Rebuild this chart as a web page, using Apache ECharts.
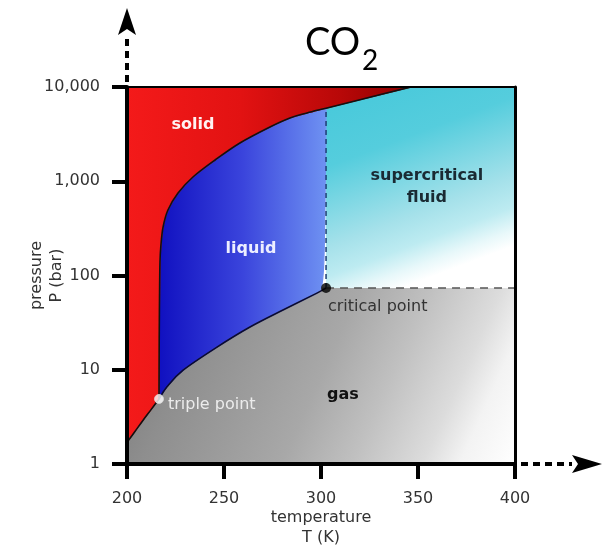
<!DOCTYPE html>
<html>
<head>
<meta charset="utf-8">
<script src="https://cdn.jsdelivr.net/npm/echarts@6/dist/echarts.min.js"></script>
<style>
  html, body { margin: 0; padding: 0; background: #fff; }
  #main { width: 611px; height: 549px; }
</style>
</head>
<body>
<div id="main"></div>
<script>
// Axis ranges and tick labels
const temperatureRange = [200, 400];
const temperatureInterval = 50;
const pressureRange = [1, 10000];
const pressureTickLabels = ['1', '10', '100', '1,000', '10,000'];

// Phase boundaries of CO2, [T (K), P (bar)]
const triplePoint = [216.5, 4.9];
const criticalPoint = [302.6, 73.7];
const sublimationCurve = [[200, 1.7], [204, 2.2], [208.2, 2.9], [212.5, 3.8], [216.5, 4.9]];
const meltingCurve = [
  [216.5, 4.9], [216.6, 20], [216.75, 55], [217, 139], [217.5, 211], [218.6, 327],
  [221.1, 495], [226.3, 750], [234, 1109], [245.4, 1680], [258.2, 2547],
  [273.7, 3765], [284, 4690], [292.8, 5300], [302.6, 5960], [320.1, 7330], [346.4, 10000]
];
const vaporCurve = [
  [216.5, 4.9], [220.6, 6.6], [228.9, 9.9], [246.4, 17.4], [263.4, 28.4],
  [280.4, 43], [297.9, 65], [302.6, 73.7]
];

// Region names and where they are written, [T, P]
const phaseNames = ['solid', 'liquid', 'supercritical\nfluid', 'gas'];
const phaseNameAnchors = [[234, 3955], [263.9, 191], [354.6, 869], [311.3, 5.4]];
const pointNames = ['triple point', 'critical point'];
const pointNameAnchors = [[221.1, 4.23], [303.6, 46.3]];

const Tmin = temperatureRange[0], Tmax = temperatureRange[1];
const Pmin = pressureRange[0], Pmax = pressureRange[1];
const meltingAtCritical = meltingCurve.find(p => p[0] === criticalPoint[0]);
const criticalIndex = meltingCurve.indexOf(meltingAtCritical);

const G = echarts.graphic.LinearGradient;
const fills = {
  gas: new G(0, 0, 1, 1, [
    { offset: 0, color: '#777777' }, { offset: 0.2, color: '#8e8e8e' },
    { offset: 0.5, color: '#a8a8a8' }, { offset: 0.65, color: '#c0c0c0' },
    { offset: 0.8, color: '#dcdcdc' }, { offset: 0.88, color: '#f3f3f3' },
    { offset: 1, color: '#ffffff' }
  ]),
  fluid: new G(0, 0, 0.4, 1, [
    { offset: 0, color: '#45c8da' }, { offset: 0.35, color: '#55cddd' },
    { offset: 0.7, color: '#a5e1ea' }, { offset: 0.83, color: '#bdebf1' },
    { offset: 0.93, color: '#e8f8fa' }, { offset: 1, color: '#ffffff' }
  ]),
  liquid: new G(0, 0, 1, 0, [
    { offset: 0, color: '#1010c0' }, { offset: 0.5, color: '#3a44dc' },
    { offset: 1, color: '#6f92f2' }
  ]),
  solid: new G(0, 0, 1, 0, [
    { offset: 0, color: '#f41a1a' }, { offset: 0.4, color: '#e21212' },
    { offset: 0.75, color: '#b80808' }, { offset: 1, color: '#8c0000' }
  ])
};

// Catmull-Rom pieces (as cubic Beziers) through pixel points
function bezierPieces(px) {
  const out = [];
  for (let i = 0; i < px.length - 1; i++) {
    const p0 = px[Math.max(i - 1, 0)], p1 = px[i], p2 = px[i + 1], p3 = px[Math.min(i + 2, px.length - 1)];
    out.push({
      a: p1, b: p2,
      c1: [p1[0] + (p2[0] - p0[0]) / 6, p1[1] + (p2[1] - p0[1]) / 6],
      c2: [p2[0] - (p3[0] - p1[0]) / 6, p2[1] - (p3[1] - p1[1]) / 6]
    });
  }
  return out;
}
function reversed(pieces) {
  return pieces.slice().reverse().map(g => ({ a: g.b, b: g.a, c1: g.c2, c2: g.c1 }));
}
const f = v => v.toFixed(2);
function pathFrom(start, steps, close) {
  let d = 'M' + f(start[0]) + ' ' + f(start[1]);
  steps.forEach(s => {
    if (s.c1) d += 'C' + f(s.c1[0]) + ' ' + f(s.c1[1]) + ' ' + f(s.c2[0]) + ' ' + f(s.c2[1]) + ' ' + f(s.b[0]) + ' ' + f(s.b[1]);
    else d += 'L' + f(s[0]) + ' ' + f(s[1]);
  });
  return close ? d + 'Z' : d;
}

const FONT = '"DejaVu Sans", sans-serif';
const chart = echarts.init(document.getElementById('main'));

chart.setOption({
  animation: false,
  title: [
    { text: 'CO', left: 305, top: 24, padding: 0,
      textStyle: { fontFamily: 'Lato', fontSize: 38, fontWeight: 'normal', color: '#000' } },
    { text: '2', left: 362, top: 47, padding: 0,
      textStyle: { fontFamily: 'Lato', fontSize: 28, fontWeight: 'normal', color: '#000' } }
  ],
  grid: { left: 127, right: 96, top: 87, bottom: 85, outerBoundsMode: 'none', containLabel: false },
  xAxis: [{
    type: 'value', min: Tmin, max: Tmax, interval: temperatureInterval, position: 'bottom', z: 10,
    axisLine: { show: true, onZero: false, lineStyle: { color: '#000', width: 4 } },
    axisTick: { show: true, inside: false, length: 15, lineStyle: { color: '#000', width: 4 } },
    axisLabel: { margin: 27, color: '#333', fontSize: 16, fontFamily: FONT },
    splitLine: { show: false },
    name: 'temperature\nT (K)', nameLocation: 'middle', nameGap: 44, nameMoveOverlap: false,
    nameTextStyle: { color: '#333', fontSize: 16, fontFamily: FONT, lineHeight: 20 }
  }, {
    type: 'value', min: Tmin, max: Tmax, position: 'top', z: 10,
    axisLine: { show: true, onZero: false, lineStyle: { color: '#000', width: 2 } },
    axisTick: { show: false }, axisLabel: { show: false }, splitLine: { show: false }
  }],
  yAxis: [{
    type: 'log', logBase: 10, min: Pmin, max: Pmax, position: 'left', z: 10,
    axisLine: { show: true, onZero: false, lineStyle: { color: '#000', width: 4 } },
    axisTick: { show: true, inside: false, length: 15, lineStyle: { color: '#000', width: 4 } },
    axisLabel: {
      margin: 27, color: '#333', fontSize: 16, fontFamily: FONT,
      formatter: v => pressureTickLabels[Math.round(Math.log10(v))]
    },
    splitLine: { show: false }, minorTick: { show: false },
    name: 'pressure\nP (bar)', nameLocation: 'middle', nameGap: 60, nameRotate: 90, nameMoveOverlap: false,
    nameTextStyle: { color: '#333', fontSize: 16, fontFamily: FONT, lineHeight: 20 }
  }, {
    type: 'log', logBase: 10, min: Pmin, max: Pmax, position: 'right', z: 10,
    axisLine: { show: true, onZero: false, lineStyle: { color: '#000', width: 3 } },
    axisTick: { show: false }, axisLabel: { show: false }, splitLine: { show: false }
  }],
  series: [
    {
      // phase regions and their boundary curves
      type: 'custom', z: 1, clip: true, silent: true,
      data: [[Tmin, Pmin]],
      encode: { x: 0, y: 1 },
      renderItem: (params, api) => {
        const c = p => api.coord(p);
        const sub = bezierPieces(sublimationCurve.map(c));
        const melt = bezierPieces(meltingCurve.map(c));
        const vap = bezierPieces(vaporCurve.map(c));
        const cp = c(criticalPoint);

        const gasPath = pathFrom(c([Tmin, Pmin]), [c([Tmax, Pmin]), c([Tmax, criticalPoint[1]]), c([Tmin, criticalPoint[1]])], true);
        const fluidPath = pathFrom(cp, [c([criticalPoint[0], Pmax]), c([Tmax, Pmax]), c([Tmax, criticalPoint[1]])], true);
        const liquidPath = pathFrom(melt[0].a, melt.slice(0, criticalIndex).concat(reversed(vap)), true);
        const solidPath = pathFrom(sub[0].a, sub.concat(melt, [c([Tmin, Pmax])]), true);
        const edge = (pieces, color) => ({
          type: 'path', shape: { pathData: pathFrom(pieces[0].a, pieces, false) },
          style: { fill: 'none', stroke: color, lineWidth: 1.6 }
        });
        const region = (d, fill, seam) => ({
          type: 'path', shape: { pathData: d },
          style: { fill: fill, stroke: seam ? fill : null, lineWidth: seam ? 1.2 : 0 }
        });
        return {
          type: 'group',
          children: [
            region(gasPath, fills.gas, true),
            region(fluidPath, fills.fluid, false),
            region(liquidPath, fills.liquid, true),
            region(solidPath, fills.solid, true),
            edge(sub, '#111'),
            edge(melt, '#111'),
            edge(vap, '#0c0c30')
          ]
        };
      }
    },
    {
      type: 'line', z: 3, data: [criticalPoint, meltingAtCritical], showSymbol: false, silent: true,
      lineStyle: { color: '#1d3d73', width: 1.5, type: [5, 4] }
    },
    {
      type: 'line', z: 3, data: [criticalPoint, [Tmax, criticalPoint[1]]], showSymbol: false, silent: true,
      lineStyle: { color: '#555', width: 1.5, type: [8, 6] }
    },
    {
      type: 'scatter', z: 4, silent: true,
      data: [
        { value: triplePoint, symbolSize: 9, itemStyle: { color: '#ffffff', borderColor: '#d8d8d8', borderWidth: 1 } },
        { value: criticalPoint, symbolSize: 10, itemStyle: { color: '#000' } }
      ]
    },
    {
      // region and point names
      type: 'custom', z: 5, clip: false, silent: true,
      data: phaseNames.concat(pointNames).map((n, i) => [i]),
      encode: { x: -1, y: -1 },
      renderItem: (params, api) => {
        const i = params.dataIndex;
        const styles = [
          { fill: '#fff2f2', weight: 'bold', size: 16, align: 'center' },
          { fill: '#eceeff', weight: 'bold', size: 16, align: 'center' },
          { fill: '#1a2a33', weight: 'bold', size: 16, align: 'center' },
          { fill: '#111', weight: 'bold', size: 16, align: 'center' },
          { fill: '#ececec', weight: 'normal', size: 16, align: 'left' },
          { fill: '#333', weight: 'normal', size: 16, align: 'left' }
        ];
        const isPhase = i < phaseNames.length;
        const text = isPhase ? phaseNames[i] : pointNames[i - phaseNames.length];
        const anchor = isPhase ? phaseNameAnchors[i] : pointNameAnchors[i - phaseNames.length];
        const s = styles[i];
        const p = api.coord(anchor);
        return {
          type: 'text', x: p[0], y: p[1],
          style: {
            text: text, fill: s.fill, fontFamily: FONT, fontWeight: s.weight,
            fontSize: s.size, lineHeight: 22, align: s.align, verticalAlign: 'middle'
          }
        };
      }
    },
    {
      // dotted arrow extensions of the two axes
      type: 'custom', z: 10, clip: false, silent: true,
      data: [[Tmin, Pmax]],
      encode: { x: 0, y: 1 },
      renderItem: (params, api) => {
        const top = api.coord([Tmin, Pmax]);
        const end = api.coord([Tmax, Pmin]);
        const dash = { stroke: '#000', lineWidth: 4, lineDash: [7, 5] };
        return {
          type: 'group',
          children: [
            { type: 'line', shape: { x1: top[0], y1: top[1] - 5, x2: top[0], y2: top[1] - 50 }, style: dash },
            { type: 'polygon', shape: { points: [
              [top[0], top[1] - 79], [top[0] - 9, top[1] - 52], [top[0], top[1] - 58], [top[0] + 9, top[1] - 52]
            ] }, style: { fill: '#000' } },
            { type: 'line', shape: { x1: end[0] + 6, y1: end[1], x2: end[0] + 57, y2: end[1] }, style: dash },
            { type: 'polygon', shape: { points: [
              [end[0] + 87, end[1]], [end[0] + 57, end[1] - 9], [end[0] + 63, end[1]], [end[0] + 57, end[1] + 9]
            ] }, style: { fill: '#000' } }
          ]
        };
      }
    }
  ]
});
</script>
</body>
</html>
